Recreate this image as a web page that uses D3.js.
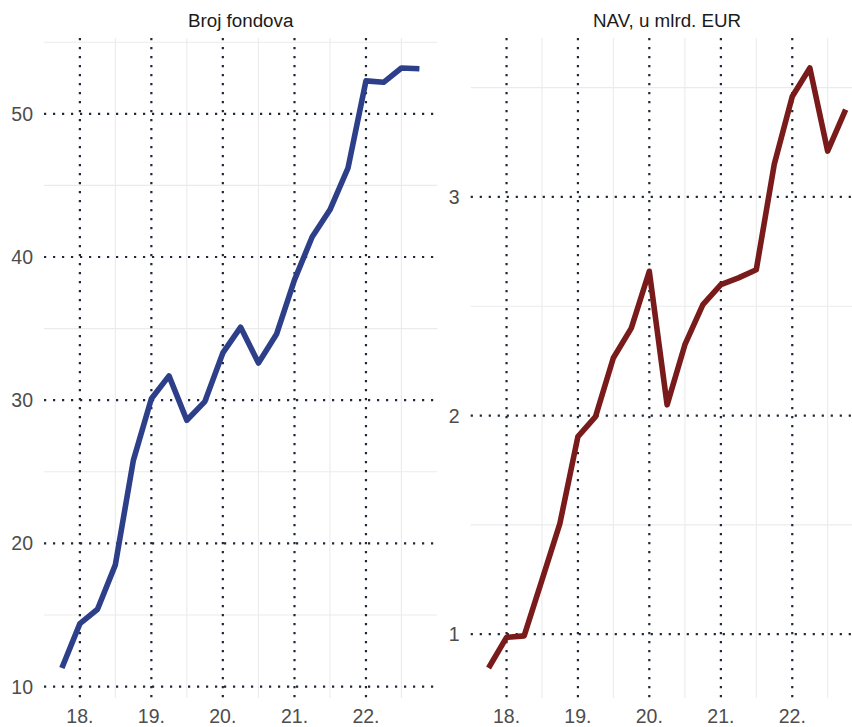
<!DOCTYPE html>
<meta charset="utf-8">
<style>
  body { margin: 0; background: #fff; }
  text { font-family: "Liberation Sans", Arial, sans-serif; }
</style>
<svg width="852" height="727"></svg>
<script src="https://d3js.org/d3.v7.min.js"></script>
<script>

// quarterly observations, Q4 2017 .. Q4 2022
var quarters = ["2017-10-01", "2018-01-01", "2018-04-01", "2018-07-01", "2018-10-01",
                "2019-01-01", "2019-04-01", "2019-07-01", "2019-10-01",
                "2020-01-01", "2020-04-01", "2020-07-01", "2020-10-01",
                "2021-01-01", "2021-04-01", "2021-07-01", "2021-10-01",
                "2022-01-01", "2022-04-01", "2022-07-01", "2022-10-01"];

var brojFondova = [11.3, 14.4, 15.4, 18.5, 25.8, 30.1, 31.7, 28.6, 29.9, 33.3, 35.1,
                   32.6, 34.6, 38.4, 41.4, 43.3, 46.2, 52.3, 52.2, 53.2, 53.15];

var navMlrd = [0.845, 0.985, 0.992, 1.247, 1.507, 1.904, 1.995, 2.263, 2.40, 2.66, 2.049,
               2.324, 2.507, 2.599, 2.63, 2.667, 3.15, 3.46, 3.59, 3.21, 3.40];

var titles = ["Broj fondova", "NAV, u mlrd. EUR"];
var yearTicks = ["2018-01-01", "2019-01-01", "2020-01-01", "2021-01-01", "2022-01-01"];
var yTicksLeft = [10, 20, 30, 40, 50],
    yTicksRight = [1, 2, 3];

var parse = d3.timeParse("%Y-%m-%d"),
    dates = quarters.map(parse);

var svg = d3.select("svg"),
    panelTop = 38,
    panelBottom = 698;

function expand(ext, f) {
  var d = (ext[1] - ext[0]) * f;
  return [ext[0] - d, ext[1] + d];
}

function panel(opts) {
  var g = svg.append("g");

  var xd = d3.extent(dates).map(Number),
      x = d3.scaleTime()
        .domain(expand(xd, 0.05).map(function(t) { return new Date(t); }))
        .range([opts.left, opts.right]);

  var y = d3.scaleLinear()
    .domain(expand(d3.extent(opts.values), 0.05))
    .range([panelBottom, panelTop]);

  // minor grid (half years, half steps)
  var minorX = d3.timeMonth.every(6).range(x.domain()[0], x.domain()[1])
    .filter(function(d) { return d.getMonth() === 6; });
  g.selectAll(".minx").data(minorX).enter().append("line")
    .attr("x1", x).attr("x2", x)
    .attr("y1", panelTop).attr("y2", panelBottom)
    .attr("stroke", "#ebebeb").attr("stroke-width", 1.1);

  g.selectAll(".miny").data(opts.minorY).enter().append("line")
    .attr("x1", opts.left).attr("x2", opts.right)
    .attr("y1", y).attr("y2", y)
    .attr("stroke", "#ebebeb").attr("stroke-width", 1.1);

  // major grid, dotted
  var majorX = yearTicks.map(parse);
  g.selectAll(".majx").data(majorX).enter().append("line")
    .attr("x1", x).attr("x2", x)
    .attr("y1", panelTop).attr("y2", panelBottom)
    .attr("stroke", "#1f2838").attr("stroke-width", 2.2)
    .attr("stroke-dasharray", "2.2,6.8");

  g.selectAll(".majy").data(opts.ticks).enter().append("line")
    .attr("x1", opts.left).attr("x2", opts.right)
    .attr("y1", y).attr("y2", y)
    .attr("stroke", "#1f2838").attr("stroke-width", 2.2)
    .attr("stroke-dasharray", "2.2,6.8");

  // series
  var line = d3.line()
    .x(function(d, i) { return x(dates[i]); })
    .y(function(d) { return y(d); });

  g.append("path")
    .datum(opts.values)
    .attr("d", line)
    .attr("fill", "none")
    .attr("stroke", opts.color)
    .attr("stroke-width", 5.6)
    .attr("stroke-linejoin", "round");

  // axis labels
  g.selectAll(".ytxt").data(opts.ticks).enter().append("text")
    .attr("x", opts.left - 11)
    .attr("y", y)
    .attr("dy", "0.36em")
    .attr("text-anchor", "end")
    .attr("fill", "#4d4d4d")
    .style("font-size", "19.5px")
    .text(function(d) { return d; });

  g.selectAll(".xtxt").data(majorX).enter().append("text")
    .attr("x", x)
    .attr("y", 723)
    .attr("text-anchor", "middle")
    .attr("fill", "#4d4d4d")
    .style("font-size", "19.5px")
    .text(d3.timeFormat("%y."));

  g.append("text")
    .attr("x", (opts.left + opts.right) / 2)
    .attr("y", 27)
    .attr("text-anchor", "middle")
    .attr("fill", "#1a1a1a")
    .style("font-size", "18.8px")
    .text(opts.title);
}

panel({ left: 44, right: 437.3, values: brojFondova, ticks: yTicksLeft,
        minorY: [15, 25, 35, 45, 55], color: "#2e3f8a", title: titles[0] });

panel({ left: 470.7, right: 863.5, values: navMlrd, ticks: yTicksRight,
        minorY: [1.5, 2.5, 3.5], color: "#7a1b1b", title: titles[1] });

</script>
